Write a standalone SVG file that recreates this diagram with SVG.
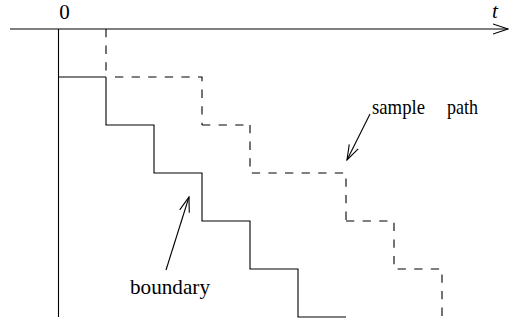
<svg xmlns="http://www.w3.org/2000/svg" width="509" height="324" viewBox="0 0 509 324">
<defs>
<style>
.ln{fill:none;stroke:#000;stroke-width:1.1}
.ds{fill:none;stroke:#000;stroke-width:1.1;stroke-dasharray:8.3 8.3}
.tx{font-family:"Liberation Serif","Times New Roman",serif;font-size:21px;fill:#000}
</style>
<marker id="oa" viewBox="0 0 16 12" refX="15" refY="6" markerWidth="16" markerHeight="12" markerUnits="userSpaceOnUse" orient="auto">
<path d="M0,1 L15,6 L0,11" fill="none" stroke="#000" stroke-width="1.1"/>
</marker>
</defs>
<g id="axis">
<line class="ln" x1="10" y1="29" x2="508" y2="29" marker-end="url(#oa)"/>
<text class="tx" x="64.5" y="18.5" text-anchor="middle">0</text>
<text class="tx" x="495" y="18" text-anchor="middle" font-style="italic">t</text>
</g>
<g id="origin-line">
<line class="ln" x1="58.5" y1="29" x2="58.5" y2="317"/>
<line class="ln" x1="58.5" y1="77" x2="106" y2="77"/>
</g>
<g id="boundary">
<path class="ln" d="M106,77 V125 H154 V173 H202 V221 H250 V269 H298 V317 H346"/>
<text class="tx" x="130" y="294" textLength="80" lengthAdjust="spacingAndGlyphs">boundary</text>
</g>
<g id="sample-path">
<path class="ds" d="M106,29 V77"/>
<path class="ds" d="M115,77 H202 V125"/>
<path class="ds" d="M202,125 H250"/>
<path class="ds" d="M250,125 V173 H346 V221"/>
<path class="ds" d="M346,221 H394 V269 H442 V317"/>
<text class="tx" y="113.5"><tspan x="372" textLength="53" lengthAdjust="spacingAndGlyphs">sample</tspan> <tspan x="447" textLength="31" lengthAdjust="spacingAndGlyphs">path</tspan></text>
</g>
<g id="connectors">
<line class="ln" x1="370" y1="114" x2="347" y2="160" marker-end="url(#oa)"/>
<line class="ln" x1="166" y1="270" x2="189" y2="197" marker-end="url(#oa)"/>
</g>
</svg>
